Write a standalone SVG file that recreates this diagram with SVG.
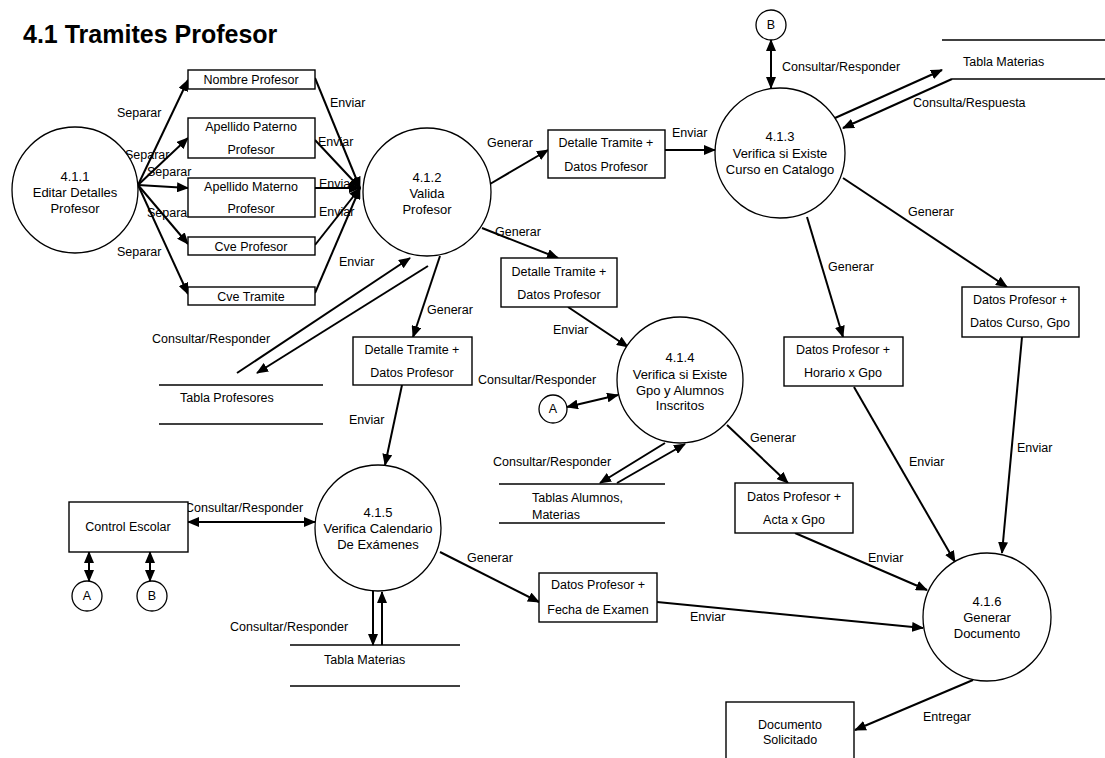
<svg xmlns="http://www.w3.org/2000/svg" width="1105" height="758" viewBox="0 0 1105 758">
  <style>
    text { font-family: "Liberation Sans", Arial, sans-serif; font-size: 12.5px; fill: #000; }
    .title { font-size: 25px; font-weight: bold; }
    .nt { font-size: 13px; text-anchor: middle; }
    .bt { font-size: 12.5px; text-anchor: middle; }
    .proc { fill: #fff; stroke: #000; stroke-width: 1.3; }
    .box { fill: #fff; stroke: #000; stroke-width: 1.4; }
    .store { stroke: #000; stroke-width: 1.4; fill: none; }
    .flow { stroke: #000; stroke-width: 2; fill: none; marker-end: url(#ah); }
    .flow2 { stroke: #000; stroke-width: 2; fill: none; marker-end: url(#ah); marker-start: url(#ah); }
  </style>
  <defs>
    <marker id="ah" markerUnits="userSpaceOnUse" markerWidth="12" markerHeight="10" refX="11" refY="5" orient="auto-start-reverse">
      <path d="M0,0 L12,5 L0,10 z" fill="#000"/>
    </marker>
  </defs>

  <rect width="1105" height="758" fill="#fff"/>

  <text class="title" x="23" y="43">4.1 Tramites Profesor</text>

  <!-- data flows -->
  <g id="connectors">
    <line class="flow" x1="138" y1="185" x2="188" y2="80"/>
    <line class="flow" x1="138" y1="185" x2="188" y2="138"/>
    <line class="flow" x1="138" y1="185" x2="188" y2="188"/>
    <line class="flow" x1="138" y1="185" x2="188" y2="244"/>
    <line class="flow" x1="138" y1="185" x2="188" y2="294"/>

    <line class="flow" x1="315" y1="78" x2="360" y2="188"/>
    <line class="flow" x1="315" y1="140" x2="360" y2="188"/>
    <line class="flow" x1="315" y1="188" x2="360" y2="188"/>
    <line class="flow" x1="315" y1="245" x2="360" y2="188"/>
    <line class="flow" x1="315" y1="293" x2="360" y2="188"/>

    <line class="flow" x1="490" y1="184" x2="548" y2="150"/>
    <line class="flow" x1="665" y1="150" x2="715" y2="150"/>
    <line class="flow" x1="482" y1="228" x2="558" y2="258"/>
    <line class="flow" x1="568" y1="307" x2="628" y2="347"/>
    <line class="flow" x1="440" y1="256" x2="413" y2="337"/>
    <line class="flow" x1="402" y1="385" x2="385" y2="465"/>

    <line class="flow" x1="237" y1="373" x2="410" y2="258"/>
    <line class="flow" x1="428" y1="266" x2="257" y2="373"/>

    <line class="flow2" x1="771" y1="40" x2="771" y2="88"/>
    <line class="flow" x1="835" y1="118" x2="942" y2="70"/>
    <line class="flow" x1="952" y1="79" x2="843" y2="128"/>
    <line class="flow" x1="843" y1="178" x2="1007" y2="287"/>
    <line class="flow" x1="807" y1="217" x2="843" y2="337"/>
    <line class="flow" x1="854" y1="387" x2="955" y2="562"/>
    <line class="flow" x1="1022" y1="337" x2="1002" y2="553"/>

    <line class="flow2" x1="567" y1="407" x2="618" y2="395"/>
    <line class="flow" x1="665" y1="443" x2="600" y2="483"/>
    <line class="flow" x1="617" y1="483" x2="685" y2="444"/>
    <line class="flow" x1="727" y1="425" x2="788" y2="483"/>
    <line class="flow" x1="795" y1="533" x2="927" y2="590"/>

    <line class="flow2" x1="188" y1="522" x2="315" y2="522"/>
    <line class="flow2" x1="89" y1="552" x2="89" y2="581"/>
    <line class="flow2" x1="150" y1="552" x2="150" y2="581"/>
    <line class="flow" x1="373" y1="591" x2="373" y2="645"/>
    <line class="flow" x1="382" y1="645" x2="382" y2="592"/>
    <line class="flow" x1="440" y1="552" x2="539" y2="602"/>
    <line class="flow" x1="657" y1="602" x2="923" y2="628"/>
    <line class="flow" x1="973" y1="680" x2="855" y2="730"/>
  </g>

  <!-- flow labels -->
  <g id="flow-labels">
    <text x="117" y="117">Separar</text>
    <text x="125" y="159">Separar</text>
    <text x="147" y="176">Separar</text>
    <text x="147" y="217">Separar</text>
    <text x="117" y="256">Separar</text>
    <text x="330" y="107">Enviar</text>
    <text x="318" y="146">Enviar</text>
    <text x="319" y="188">Enviar</text>
    <text x="319" y="216">Enviar</text>
    <text x="339" y="266">Enviar</text>
    <text x="487" y="147">Generar</text>
    <text x="672" y="137">Enviar</text>
    <text x="495" y="236">Generar</text>
    <text x="427" y="314">Generar</text>
    <text x="553" y="334">Enviar</text>
    <text x="349" y="424">Enviar</text>
    <text x="478" y="384">Consultar/Responder</text>
    <text x="152" y="343">Consultar/Responder</text>
    <text x="782" y="71">Consultar/Responder</text>
    <text x="913" y="107">Consulta/Respuesta</text>
    <text x="908" y="216">Generar</text>
    <text x="828" y="271">Generar</text>
    <text x="909" y="466">Enviar</text>
    <text x="1017" y="452">Enviar</text>
    <text x="750" y="442">Generar</text>
    <text x="493" y="466">Consultar/Responder</text>
    <text x="868" y="562">Enviar</text>
    <text x="185" y="512">Consultar/Responder</text>
    <text x="467" y="562">Generar</text>
    <text x="690" y="621">Enviar</text>
    <text x="230" y="631">Consultar/Responder</text>
    <text x="923" y="721">Entregar</text>
  </g>

  <!-- processes -->
  <g id="p411">
    <circle class="proc" cx="75" cy="190" r="63"/>
    <text class="nt" x="75" y="181">4.1.1</text>
    <text class="nt" x="75" y="197">Editar Detalles</text>
    <text class="nt" x="75" y="213">Profesor</text>
  </g>
  <g id="p412">
    <circle class="proc" cx="427" cy="192" r="64"/>
    <text class="nt" x="427" y="182">4.1.2</text>
    <text class="nt" x="427" y="198">Valida</text>
    <text class="nt" x="427" y="214">Profesor</text>
  </g>
  <g id="p413">
    <circle class="proc" cx="780" cy="153" r="65"/>
    <text class="nt" x="780" y="141">4.1.3</text>
    <text class="nt" x="780" y="158">Verifica si Existe</text>
    <text class="nt" x="780" y="174">Curso en Catalogo</text>
  </g>
  <g id="p414">
    <circle class="proc" cx="680" cy="380" r="63"/>
    <text class="nt" x="680" y="362">4.1.4</text>
    <text class="nt" x="680" y="379">Verifica si Existe</text>
    <text class="nt" x="680" y="395">Gpo y Alumnos</text>
    <text class="nt" x="680" y="410">Inscritos</text>
  </g>
  <g id="p415">
    <circle class="proc" cx="378" cy="528" r="63"/>
    <text class="nt" x="378" y="517">4.1.5</text>
    <text class="nt" x="378" y="533">Verifica Calendario</text>
    <text class="nt" x="378" y="549">De Exámenes</text>
  </g>
  <g id="p416">
    <circle class="proc" cx="987" cy="617" r="64"/>
    <text class="nt" x="987" y="606">4.1.6</text>
    <text class="nt" x="987" y="622">Generar</text>
    <text class="nt" x="987" y="638">Documento</text>
  </g>

  <!-- data items -->
  <g id="nombre-profesor">
    <rect class="box" x="188" y="70" width="127" height="19"/>
    <text class="bt" x="251" y="84">Nombre Profesor</text>
  </g>
  <g id="apellido-paterno">
    <rect class="box" x="188" y="118" width="127" height="40"/>
    <text class="bt" x="251" y="131">Apellido Paterno</text>
    <text class="bt" x="251" y="154">Profesor</text>
  </g>
  <g id="apellido-materno">
    <rect class="box" x="188" y="178" width="127" height="39"/>
    <text class="bt" x="251" y="191">Apellido Materno</text>
    <text class="bt" x="251" y="213">Profesor</text>
  </g>
  <g id="cve-profesor">
    <rect class="box" x="188" y="237" width="127" height="18"/>
    <text class="bt" x="251" y="251">Cve Profesor</text>
  </g>
  <g id="cve-tramite">
    <rect class="box" x="188" y="287" width="127" height="18"/>
    <text class="bt" x="251" y="301">Cve Tramite</text>
  </g>
  <g id="detalle-1">
    <rect class="box" x="548" y="130" width="117" height="48"/>
    <text class="bt" x="606" y="147">Detalle Tramite +</text>
    <text class="bt" x="606" y="171">Datos Profesor</text>
  </g>
  <g id="detalle-2">
    <rect class="box" x="501" y="258" width="116" height="49"/>
    <text class="bt" x="559" y="276">Detalle Tramite +</text>
    <text class="bt" x="559" y="299">Datos Profesor</text>
  </g>
  <g id="detalle-3">
    <rect class="box" x="353" y="337" width="119" height="48"/>
    <text class="bt" x="412" y="354">Detalle Tramite +</text>
    <text class="bt" x="412" y="377">Datos Profesor</text>
  </g>
  <g id="datos-curso">
    <rect class="box" x="962" y="287" width="117" height="50"/>
    <text class="bt" x="1020" y="304">Datos Profesor +</text>
    <text class="bt" x="1020" y="327">Datos Curso, Gpo</text>
  </g>
  <g id="datos-horario">
    <rect class="box" x="784" y="337" width="119" height="49"/>
    <text class="bt" x="843" y="354">Datos Profesor +</text>
    <text class="bt" x="843" y="377">Horario x Gpo</text>
  </g>
  <g id="datos-acta">
    <rect class="box" x="735" y="483" width="118" height="50"/>
    <text class="bt" x="794" y="501">Datos Profesor +</text>
    <text class="bt" x="794" y="524">Acta x Gpo</text>
  </g>
  <g id="datos-fecha">
    <rect class="box" x="539" y="573" width="118" height="49"/>
    <text class="bt" x="598" y="589">Datos Profesor +</text>
    <text class="bt" x="598" y="614">Fecha de Examen</text>
  </g>

  <!-- external entities -->
  <g id="control-escolar">
    <rect class="box" x="69" y="502" width="119" height="50"/>
    <text class="bt" x="128" y="531">Control Escolar</text>
  </g>
  <g id="documento-solicitado">
    <rect class="box" x="726" y="702" width="128" height="60"/>
    <text class="bt" x="790" y="729">Documento</text>
    <text class="bt" x="790" y="744">Solicitado</text>
  </g>

  <!-- connectors (off-page) -->
  <g id="conn-b-top">
    <circle class="proc" cx="771" cy="25" r="15"/>
    <text class="bt" x="771" y="29">B</text>
  </g>
  <g id="conn-a-mid">
    <circle class="proc" cx="553" cy="409" r="14"/>
    <text class="bt" x="553" y="413">A</text>
  </g>
  <g id="conn-a-bottom">
    <circle class="proc" cx="87" cy="596" r="15"/>
    <text class="bt" x="87" y="600">A</text>
  </g>
  <g id="conn-b-bottom">
    <circle class="proc" cx="152" cy="596" r="15"/>
    <text class="bt" x="152" y="600">B</text>
  </g>

  <!-- data stores -->
  <g id="tabla-materias-top">
    <line class="store" x1="942" y1="40" x2="1105" y2="40"/>
    <line class="store" x1="952" y1="79" x2="1105" y2="79"/>
    <text x="963" y="66">Tabla Materias</text>
  </g>
  <g id="tabla-profesores">
    <line class="store" x1="159" y1="385" x2="323" y2="385"/>
    <line class="store" x1="159" y1="424" x2="323" y2="424"/>
    <text x="180" y="402">Tabla Profesores</text>
  </g>
  <g id="tablas-alumnos">
    <line class="store" x1="499" y1="484" x2="665" y2="484"/>
    <line class="store" x1="499" y1="523" x2="665" y2="523"/>
    <text x="532" y="502">Tablas Alumnos,</text>
    <text x="532" y="519">Materias</text>
  </g>
  <g id="tabla-materias-bottom">
    <line class="store" x1="290" y1="645" x2="460" y2="645"/>
    <line class="store" x1="290" y1="686" x2="460" y2="686"/>
    <text x="324" y="664">Tabla Materias</text>
  </g>
</svg>
